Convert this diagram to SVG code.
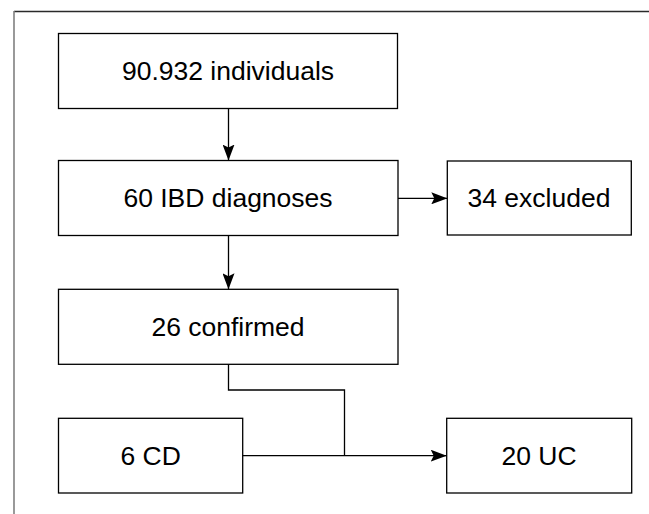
<svg xmlns="http://www.w3.org/2000/svg" width="649" height="514" viewBox="0 0 649 514">
<style>
.box{fill:#fff;stroke:#000;stroke-width:1.3}
.lbl{font-family:"Liberation Sans",Arial,sans-serif;font-size:26.5px;fill:#000;text-anchor:middle}
.edge{fill:none;stroke:#000;stroke-width:1.3}
</style>
<defs>
<marker id="ah" viewBox="0 0 16 12" refX="16" refY="6" markerWidth="16" markerHeight="12" markerUnits="userSpaceOnUse" orient="auto">
<path d="M0,0 L16,6 L0,12 L3,6 Z" fill="#000"/>
</marker>
</defs>
<rect width="649" height="514" fill="#fff"/>
<line x1="14" y1="11.5" x2="649" y2="11.5" stroke="#2a2a2a" stroke-width="1.5"/>
<line x1="14" y1="11" x2="14" y2="514" stroke="#808080" stroke-width="1.6"/>
<g id="n1"><rect class="box" x="58.5" y="33.5" width="339" height="75"/><text class="lbl" x="228" y="80">90.932 individuals</text></g>
<g id="n2"><rect class="box" x="58.5" y="160.5" width="339.5" height="75"/><text class="lbl" x="228" y="207">60 IBD diagnoses</text></g>
<g id="n3"><rect class="box" x="447.3" y="161" width="184" height="74"/><text class="lbl" x="539" y="207">34 excluded</text></g>
<g id="n4"><rect class="box" x="58.5" y="289.3" width="339.5" height="75"/><text class="lbl" x="228" y="336">26 confirmed</text></g>
<g id="n5"><rect class="box" x="58.5" y="418.3" width="184.2" height="74.7"/><text class="lbl" x="150.6" y="465">6 CD</text></g>
<g id="n6"><rect class="box" x="446.7" y="418.3" width="185" height="74.7"/><text class="lbl" x="539" y="465">20 UC</text></g>
<g id="edges">
<path class="edge" d="M228.5,108.5 V160.5" marker-end="url(#ah)"/>
<path class="edge" d="M228.5,235.5 V289.3" marker-end="url(#ah)"/>
<path class="edge" d="M398,198.3 H447.3" marker-end="url(#ah)"/>
<path class="edge" d="M228.5,364.3 V390 H344.5 V455.7"/>
<path class="edge" d="M242.7,455.7 H446.7" marker-end="url(#ah)"/>
</g>
</svg>
